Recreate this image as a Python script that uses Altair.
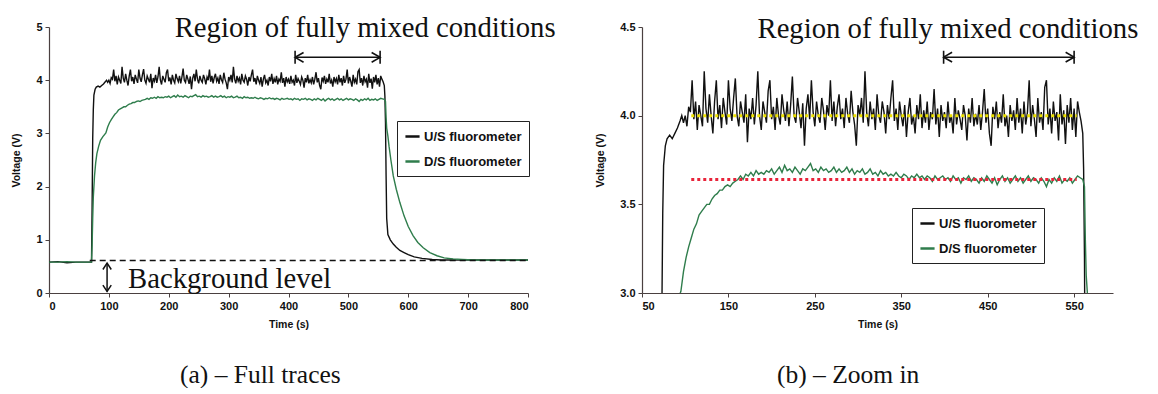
import altair as alt
import pandas as pd

SERIES = ["U/S fluorometer", "D/S fluorometer"]
COLORS = ["#111111", "#2f7d4c"]

# ---- U/S fluorometer trace (time s, voltage V) ----
US_T_RISE = [0, 15, 30, 45, 60, 71, 72, 73, 74, 75, 77, 79, 82, 85, 88, 91, 94, 96]
US_V_RISE = [0.58, 0.59, 0.57, 0.58, 0.58, 0.58, 1.6, 2.9, 3.45, 3.72, 3.83, 3.87, 3.89, 3.87, 3.90, 3.93, 3.97, 4.00]
US_T_START, US_T_STEP = 98, 2
US_V_PLATEAU = [
    3.96, 4.00, 3.94, 4.05, 4.02, 4.20, 3.98, 4.08, 3.92, 4.06,
    4.00, 3.94, 4.25, 4.04, 3.96, 4.12, 4.00, 3.90, 4.08, 4.20,
    3.98, 4.06, 3.93, 4.10, 4.02, 3.95, 4.20, 4.04, 3.97, 4.10,
    4.21, 4.00, 3.94, 4.08, 4.02, 3.96, 4.12, 3.85, 4.04, 3.98,
    4.10, 3.95, 4.06, 4.25, 4.00, 3.92, 4.08, 4.02, 3.96, 4.14,
    4.20, 3.98, 4.05, 3.92, 4.10, 4.00, 3.95, 4.12, 4.03, 3.97,
    4.08, 3.94, 4.06, 4.22, 4.00, 3.96, 4.10, 4.02, 3.93, 4.07,
    3.83, 4.04, 4.12, 3.98, 4.20, 4.02, 3.94, 4.08, 4.00, 3.96,
    4.10, 4.03, 3.92, 4.06, 4.00, 4.20, 3.97, 4.08, 3.94, 4.05,
    4.12, 3.98, 4.04, 3.93, 4.10, 4.01, 3.96, 4.14, 4.02, 3.95,
    3.83, 4.06, 4.00, 4.10, 3.96, 4.25, 4.02, 3.94, 4.08, 3.98,
    4.04, 3.92, 4.12, 4.00, 3.96, 4.08, 4.02, 3.90, 4.06, 3.98,
    4.10, 4.20, 3.97, 4.04, 3.92, 4.08, 4.00, 3.94, 4.06, 3.88,
    4.02, 4.10, 3.95, 4.00, 3.90, 4.06, 3.98, 4.12, 3.93, 4.03,
    3.96, 4.08, 3.92, 4.02, 3.98, 4.15, 3.95, 4.04, 3.88, 4.06,
    3.97, 4.02, 3.93, 4.08, 3.96, 4.00, 3.90, 4.10, 3.95, 4.03,
    3.98, 3.92, 4.06, 4.00, 3.86, 4.04, 3.96, 4.10, 3.94, 4.01,
    3.95, 4.06, 3.92, 4.02, 4.15, 3.96, 4.04, 3.90, 3.83, 4.05,
    3.98, 4.08, 3.93, 4.02, 3.96, 4.12, 3.94, 4.00, 3.88, 4.06,
    3.97, 4.03, 3.92, 4.10, 3.96, 4.04, 3.90, 4.08, 3.95, 4.02,
    4.20, 3.94, 4.06, 3.98, 3.88, 4.10, 3.96, 4.02, 3.92, 4.16,
    4.20, 3.95, 4.04, 3.90, 4.08, 3.97, 4.02, 3.86, 4.12, 3.95,
    4.03, 3.84, 4.06, 3.96, 4.10, 3.92, 4.04, 3.88, 4.08, 4.02,
]
US_T_FALL = [558, 560, 561, 562, 563, 564, 566, 570, 575, 580, 586, 593, 600, 610, 623, 640, 655, 680, 710, 740, 770, 800]
US_V_FALL = [3.97, 3.90, 3.70, 3.20, 2.20, 1.40, 1.10, 1.00, 0.92, 0.86, 0.80, 0.76, 0.72, 0.68, 0.65, 0.63, 0.62, 0.62, 0.62, 0.62, 0.62, 0.62]

# ---- D/S fluorometer trace ----
DS_T_RISE = [0, 15, 30, 45, 60, 71, 72, 73, 74, 76, 78, 80, 83, 86, 90, 95, 98, 101, 104, 107, 110, 113, 116, 119, 122, 125]
DS_V_RISE = [0.58, 0.58, 0.59, 0.58, 0.58, 0.58, 0.9, 1.4, 1.8, 2.2, 2.45, 2.62, 2.76, 2.87, 2.94, 3.01, 3.12, 3.20, 3.26, 3.31, 3.36, 3.39, 3.44, 3.46, 3.48, 3.50]
DS_T_START, DS_T_STEP = 128, 3
DS_V_PLATEAU = [
    3.50, 3.53, 3.55, 3.56, 3.58, 3.58, 3.60, 3.61, 3.60, 3.62,
    3.63, 3.64, 3.66, 3.64, 3.67, 3.66, 3.68, 3.66, 3.69, 3.67,
    3.68, 3.67, 3.69, 3.68, 3.70, 3.67, 3.69, 3.71, 3.68, 3.72,
    3.69, 3.70, 3.68, 3.71, 3.69, 3.67, 3.70, 3.69, 3.71, 3.73,
    3.69, 3.70, 3.68, 3.71, 3.69, 3.70, 3.68, 3.69, 3.71, 3.68,
    3.70, 3.68, 3.69, 3.71, 3.68, 3.70, 3.67, 3.69, 3.68, 3.70,
    3.67, 3.68, 3.70, 3.67, 3.68, 3.66, 3.69, 3.67, 3.68, 3.66,
    3.67, 3.66, 3.68, 3.66, 3.65, 3.67, 3.66, 3.64, 3.66, 3.65,
    3.67, 3.65, 3.66, 3.64, 3.66, 3.65, 3.63, 3.66, 3.64, 3.65,
    3.66, 3.64, 3.65, 3.63, 3.66, 3.64, 3.65, 3.62, 3.65, 3.64,
    3.66, 3.63, 3.65, 3.64, 3.62, 3.65, 3.63, 3.66, 3.64, 3.62,
    3.65, 3.61, 3.64, 3.66, 3.63, 3.65, 3.62, 3.64, 3.66, 3.63,
    3.65, 3.62, 3.64, 3.66, 3.63, 3.65, 3.64, 3.62, 3.65, 3.63,
    3.60, 3.64, 3.62, 3.65, 3.63, 3.66, 3.62, 3.64, 3.63, 3.65,
    3.62, 3.64, 3.66, 3.65,
]
DS_T_FALL = [560, 562, 563, 564, 566, 568, 571, 575, 580, 586, 593, 600, 608, 616, 625, 636, 648, 660, 675, 690, 710, 740, 770, 800]
DS_V_FALL = [3.64, 3.60, 3.30, 3.10, 2.95, 2.75, 2.50, 2.20, 1.95, 1.70, 1.45, 1.25, 1.08, 0.95, 0.85, 0.76, 0.70, 0.66, 0.64, 0.63, 0.62, 0.62, 0.62, 0.62]

# ---- annotation values ----
BACKGROUND_LEVEL = 0.61
US_MEAN, DS_MEAN = 4.00, 3.64
MEAN_T = [107, 553]
REGION_A = [411, 553]
REGION_B = [399, 550]


def build_trace(name, t_rise, v_rise, t0, dt, v_plat, t_fall, v_fall):
    t = list(t_rise) + [t0 + dt * k for k in range(len(v_plat))] + list(t_fall)
    v = list(v_rise) + list(v_plat) + list(v_fall)
    return pd.DataFrame({"t": t, "v": v, "series": name})


df = pd.concat([
    build_trace(SERIES[0], US_T_RISE, US_V_RISE, US_T_START, US_T_STEP, US_V_PLATEAU, US_T_FALL, US_V_FALL),
    build_trace(SERIES[1], DS_T_RISE, DS_V_RISE, DS_T_START, DS_T_STEP, DS_V_PLATEAU, DS_T_FALL, DS_V_FALL),
], ignore_index=True)

SERIF = "Liberation Serif"
SANS = "Liberation Sans"

LEFT_ARROW = "M0,-1L0,1M1.3,-0.75L0,0L1.3,0.75"
RIGHT_ARROW = "M0,-1L0,1M-1.3,-0.75L0,0L-1.3,0.75"
UP_HEAD = "M-0.8,1.2L0,0L0.8,1.2"
DOWN_HEAD = "M-0.8,-1.2L0,0L0.8,-1.2"


def legend(x, y):
    return alt.Legend(title=None, orient="none", legendX=x, legendY=y, direction="vertical",
                      strokeColor="#222", fillColor="white", padding=7, symbolType="stroke",
                      symbolSize=200, symbolStrokeWidth=2.5, labelFont=SANS, labelFontSize=13,
                      labelFontWeight="bold", labelColor="#111", rowPadding=9, labelOffset=3)


def panel(xdom, xticks, ydom, yticks, yfmt, leg_xy, region, region_y, text_t, text_v):
    x = alt.X("t:Q", scale=alt.Scale(domain=xdom, nice=False, zero=False),
              axis=alt.Axis(values=xticks, title="Time (s)"))
    y = alt.Y("v:Q", scale=alt.Scale(domain=ydom, nice=False, zero=False),
              axis=alt.Axis(values=yticks, format=yfmt, title="Voltage (V)"))
    lines = alt.Chart(df).mark_line(strokeWidth=1.4, clip=True).encode(
        x=x, y=y,
        color=alt.Color("series:N", scale=alt.Scale(domain=SERIES, range=COLORS), legend=legend(*leg_xy)),
    )
    arrow_df = pd.DataFrame({"t": [region[0]], "t2": [region[1]], "v": [region_y]})
    arrow = alt.Chart(arrow_df).mark_rule(color="#111", strokeWidth=1.5).encode(x="t:Q", x2="t2:Q", y="v:Q")
    headL = alt.Chart(arrow_df).mark_point(shape=LEFT_ARROW, size=170, filled=False, color="#111", strokeWidth=1.6, opacity=1).encode(x="t:Q", y="v:Q")
    headR = alt.Chart(arrow_df).mark_point(shape=RIGHT_ARROW, size=170, filled=False, color="#111", strokeWidth=1.6, opacity=1).encode(x="t2:Q", y="v:Q")
    txt = alt.Chart(pd.DataFrame({"t": [text_t], "v": [text_v], "label": ["Region of fully mixed conditions"]})).mark_text(
        font=SERIF, fontSize=28.7, align="center", baseline="alphabetic", color="#111"
    ).encode(x="t:Q", y="v:Q", text="label:N")
    return [lines, arrow, headL, headR, txt]


def caption(text, dx):
    return alt.TitleParams(text, orient="bottom", anchor="start", frame="group", dx=dx,
                           offset=33, font=SERIF, fontSize=25.5, fontWeight="normal", color="#111")


# ----- panel (a) -----
layers_a = panel([0, 800], list(range(0, 801, 100)), [0, 5], [0, 1, 2, 3, 4, 5], "d",
                 (348, 94), REGION_A, 4.43, 528, 4.81)
bg_df = pd.DataFrame({"t": [68], "t2": [800], "v": [BACKGROUND_LEVEL]})
bg_rule = alt.Chart(bg_df).mark_rule(color="#111", strokeWidth=1.5, strokeDash=[6, 4]).encode(x="t:Q", x2="t2:Q", y="v:Q")
va_df = pd.DataFrame({"t": [97], "v": [0.56], "v2": [0.03]})
va_rule = alt.Chart(va_df).mark_rule(color="#111", strokeWidth=1.5).encode(x="t:Q", y="v:Q", y2="v2:Q")
va_up = alt.Chart(va_df).mark_point(shape=UP_HEAD, size=110, filled=False, color="#111", strokeWidth=1.5, opacity=1).encode(x="t:Q", y="v:Q")
va_dn = alt.Chart(va_df).mark_point(shape=DOWN_HEAD, size=110, filled=False, color="#111", strokeWidth=1.5, opacity=1).encode(x="t:Q", y="v2:Q")
bg_txt = alt.Chart(pd.DataFrame({"t": [132], "v": [0.1], "label": ["Background level"]})).mark_text(
    font=SERIF, fontSize=28.7, align="left", baseline="alphabetic", color="#111"
).encode(x="t:Q", y="v:Q", text="label:N")

chart_a = alt.layer(*layers_a, bg_rule, va_rule, va_up, va_dn, bg_txt).properties(
    width=479, height=266, title=caption("(a) – Full traces", 131),
)

# ----- panel (b) -----
layers_b = panel([50, 595], list(range(50, 551, 100)), [3.0, 4.5], [3.0, 3.5, 4.0, 4.5], ".1f",
                 (270, 181), REGION_B, 4.33, 404, 4.44)
mean_df = pd.DataFrame({"t": [MEAN_T[0], MEAN_T[0]], "t2": [MEAN_T[1], MEAN_T[1]], "v": [US_MEAN, DS_MEAN],
                        "kind": ["U/S mean", "D/S mean"]})
mean_rules = alt.Chart(mean_df).mark_rule(strokeWidth=3, strokeDash=[3, 3]).encode(
    x="t:Q", x2="t2:Q", y="v:Q",
    color=alt.Color("kind:N", scale=alt.Scale(domain=["U/S mean", "D/S mean"], range=["#ece000", "#e8243a"]), legend=None),
)
chart_b = alt.layer(*layers_b, mean_rules).resolve_scale(color="independent").properties(
    width=471, height=266, title=caption("(b) – Zoom in", 135),
)

chart = alt.hconcat(chart_a, chart_b, spacing=114, bounds="flush").resolve_scale(
    color="independent", x="independent", y="independent"
).resolve_legend(color="independent").properties(
    padding={"left": 3, "top": 6, "right": 0, "bottom": 0}, background="white"
).configure_view(stroke=None).configure_axis(
    grid=False, domainColor="#4a4040", tickColor="#4a4040", tickSize=4, domainWidth=1.2,
    labelFont=SANS, labelFontSize=11, labelFontWeight="bold", labelColor="#111", labelPadding=3,
    titleFont=SANS, titleFontSize=10.5, titleFontWeight="bold", titleColor="#111",
).configure_axisY(titlePadding=14).configure_axisX(titlePadding=8)

chart.save("out.html", embed_options={"renderer": "svg", "actions": False})
